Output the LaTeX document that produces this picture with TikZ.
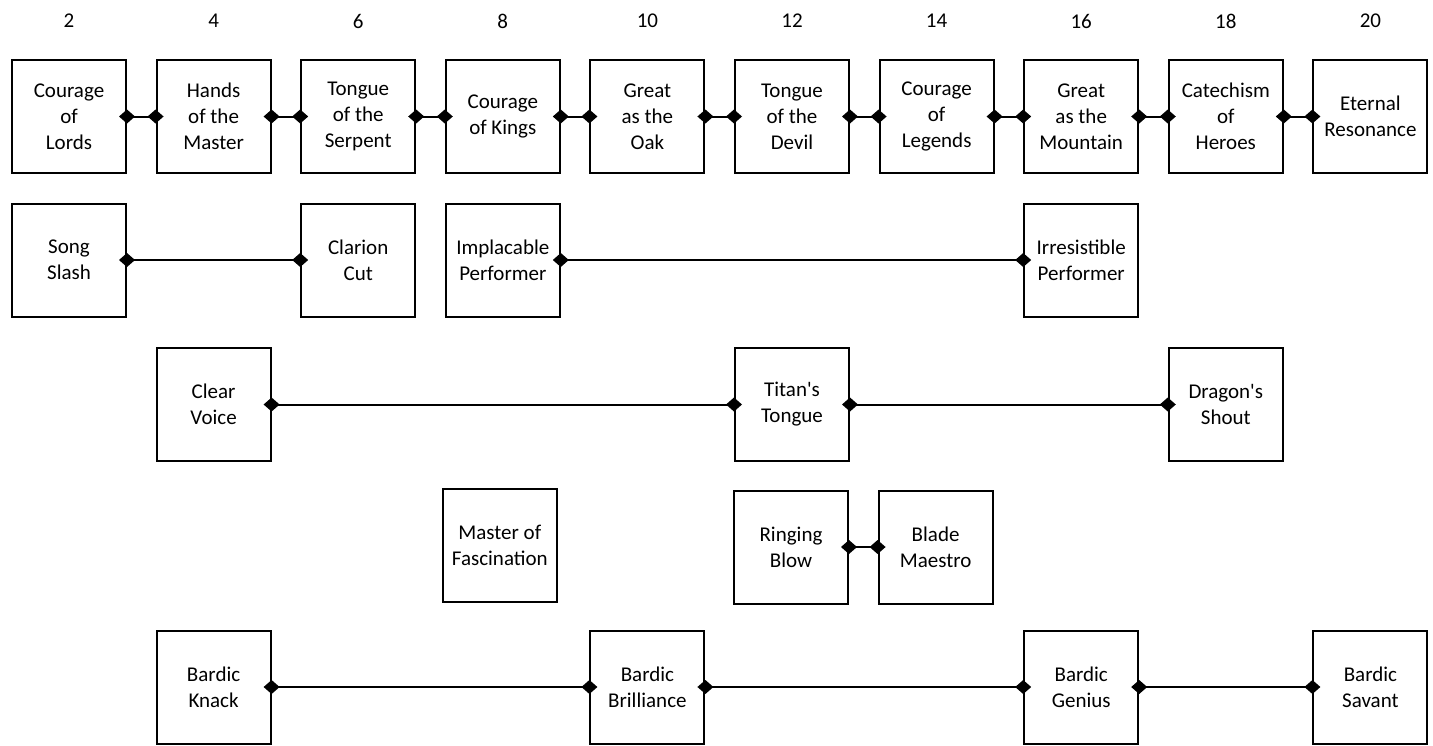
\documentclass[tikz,border=0pt]{standalone}
\usepackage{fontspec}
\setmainfont{Carlito}[Ligatures=TeXOff]
\usetikzlibrary{arrows.meta}
\begin{document}
\begin{tikzpicture}[x=1pt,y=-1pt,
  box/.style={draw=black,line width=2pt,minimum width=114pt,minimum height=113pt,
    inner sep=2pt,align=center,font=\fontsize{21}{26}\selectfont},
  lvl/.style={font=\fontsize{21}{26}\selectfont},
  link/.style={line width=2pt,{Diamond[length=16pt,width=14pt]}-{Diamond[length=16pt,width=14pt]},
    shorten <=-8pt,shorten >=-8pt}]
\useasboundingbox (0,0) rectangle (1433,745);
\def\ra{116.5}\def\rb{260}\def\rc{404.5}\def\rd{547}\def\re{687}
% level numbers
\foreach \i/\n in {0/2,1/4,2/6,3/8,4/10,5/12,6/14,7/16,8/18,9/20}{
  \node[lvl] (n\n) at ({69+144.6*\i},21) {\n};
}
% row 1
\node[box] (a0) at ({69+144.6*0},\ra) {Courage\\of\\Lords};
\node[box] (a1) at ({69+144.6*1},\ra) {Hands\\of the\\Master};
\node[box] (a2) at ({69+144.6*2},\ra) {Tongue\\of the\\Serpent};
\node[box] (a3) at ({69+144.6*3},\ra) {Courage\\of Kings};
\node[box] (a4) at ({69+144.6*4},\ra) {Great\\as the\\Oak};
\node[box] (a5) at ({69+144.6*5},\ra) {Tongue\\of the\\Devil};
\node[box] (a6) at ({69+144.6*6},\ra) {Courage\\of\\Legends};
\node[box] (a7) at ({69+144.6*7},\ra) {Great\\as the\\Mountain};
\node[box] (a8) at ({69+144.6*8},\ra) {Catechism\\of\\Heroes};
\node[box] (a9) at ({69+144.6*9},\ra) {Eternal\\Resonance};
\foreach \p/\q in {a0/a1,a1/a2,a2/a3,a3/a4,a4/a5,a5/a6,a6/a7,a7/a8,a8/a9}{
  \draw[link] (\p.east) -- (\q.west);
}
% row 2
\node[box] (b0) at ({69+144.6*0},\rb) {Song\\Slash};
\node[box] (b2) at ({69+144.6*2},\rb) {Clarion\\Cut};
\node[box] (b3) at ({69+144.6*3},\rb) {Implacable\\Performer};
\node[box] (b7) at ({69+144.6*7},\rb) {Irresistible\\Performer};
\draw[link] (b0.east) -- (b2.west);
\draw[link] (b3.east) -- (b7.west);
% row 3
\node[box] (c1) at ({69+144.6*1},\rc) {Clear\\Voice};
\node[box] (c5) at ({69+144.6*5},\rc) {Titan's\\Tongue};
\node[box] (c8) at ({69+144.6*8},\rc) {Dragon's\\Shout};
\draw[link] (c1.east) -- (c5.west);
\draw[link] (c5.east) -- (c8.west);
% row 4
\node[box] (d3) at ({66+144.6*3},545.5) {Master of\\Fascination};
\node[box] (d5) at ({68+144.6*5},\rd) {Ringing\\Blow};
\node[box] (d6) at ({68+144.6*6},\rd) {Blade\\Maestro};
\draw[link] (d5.east) -- (d6.west);
% row 5
\node[box] (e1) at ({69+144.6*1},\re) {Bardic\\Knack};
\node[box] (e4) at ({69+144.6*4},\re) {Bardic\\Brilliance};
\node[box] (e7) at ({69+144.6*7},\re) {Bardic\\Genius};
\node[box] (e9) at ({69+144.6*9},\re) {Bardic\\Savant};
\draw[link] (e1.east) -- (e4.west);
\draw[link] (e4.east) -- (e7.west);
\draw[link] (e7.east) -- (e9.west);
\end{tikzpicture}
\end{document}
